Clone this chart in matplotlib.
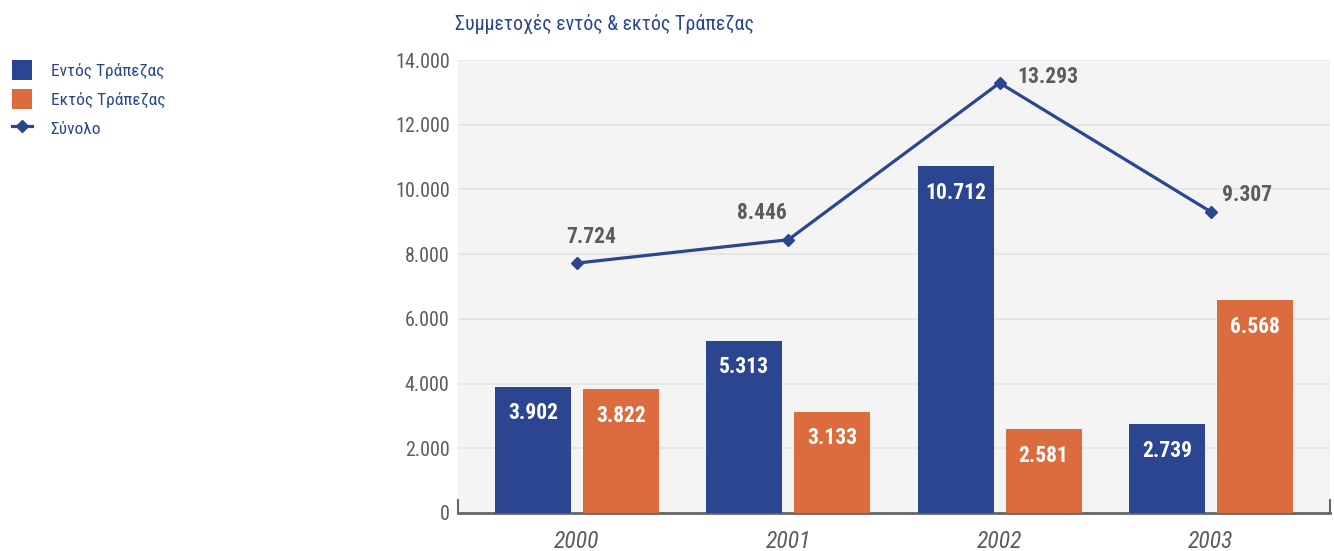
import matplotlib.pyplot as plt
import matplotlib.ticker as ticker
import numpy as np

plt.rcParams['font.family'] = ['Roboto Condensed', 'Liberation Sans Narrow', 'Roboto', 'DejaVu Sans']

years = ['2000', '2001', '2002', '2003']
entos = [3902, 5313, 10712, 2739]
ektos = [3822, 3133, 2581, 6568]
synolo = [7724, 8446, 13293, 9307]

blue = '#2b4590'
orange = '#dc6b3d'
grey = '#5c5c5c'


def fmt(v):
    return f'{v:,.0f}'.replace(',', '.')


fig = plt.figure(figsize=(13.34, 5.51), dpi=100)
ax = fig.add_axes([0.3433, 0.069, 0.6537, 0.822])
ax.set_facecolor('#f4f4f4')

x = np.arange(len(years))
w = 0.36
off = 0.208
b1 = ax.bar(x - off, entos, w, color=blue, label='Εντός Τράπεζας', zorder=3)
b2 = ax.bar(x + off, ektos, w, color=orange, label='Εκτός Τράπεζας', zorder=3)
ln, = ax.plot(x, synolo, color=blue, lw=2.3, marker='D', ms=6.5, label='Σύνολο', zorder=4)

for bars, vals in ((b1, entos), (b2, ektos)):
    for r, v in zip(bars, vals):
        ax.annotate(fmt(v), (r.get_x() + r.get_width() / 2, v), xytext=(0, -19),
                    textcoords='offset points', ha='center', va='center',
                    color='white', fontsize=15.5, fontweight='bold', zorder=5)

# offsets of the total labels around their points
offsets = [(10, 19), (-19, 19.5), (35, 4), (26, 12.5)]
for xi, v, o in zip(x, synolo, offsets):
    ax.annotate(fmt(v), (xi, v), xytext=o, textcoords='offset points',
                ha='center', va='center', color=grey, fontsize=15.5,
                fontweight='bold', zorder=5)

ax.set_xlim(-0.563, 3.563)
ax.set_ylim(0, 14000)
ax.yaxis.set_major_locator(ticker.MultipleLocator(2000))
ax.yaxis.set_major_formatter(ticker.FuncFormatter(lambda v, p: fmt(v)))
ax.set_xticks(x)
ax.set_xticklabels(years, fontstyle='italic', fontsize=17, color=grey)
ax.tick_params(axis='x', length=0, pad=12)
ax.tick_params(axis='y', length=0, pad=6, labelsize=14.5, labelcolor=grey)
ax.grid(axis='y', color='#e4e4e4', lw=1.2, zorder=0)

ax.spines['top'].set_visible(False)
for s in ('left', 'right'):
    ax.spines[s].set_bounds(0, 400)
    ax.spines[s].set_color('#666666')
    ax.spines[s].set_linewidth(1.5)
ax.spines['bottom'].set_color('#666666')
ax.spines['bottom'].set_linewidth(2)

fig.text(0.341, 0.957, 'Συμμετοχές εντός & εκτός Τράπεζας', color=blue,
         fontsize=14.4, ha='left', va='center')

fig.legend(handles=[b1, b2, ln], loc='upper left', bbox_to_anchor=(-0.003, 0.92),
           frameon=False, fontsize=12.5, labelcolor=blue, handlelength=1.15,
           handleheight=1.4, handletextpad=1.1, labelspacing=0.53)

fig.savefig('out.png', dpi=100)
